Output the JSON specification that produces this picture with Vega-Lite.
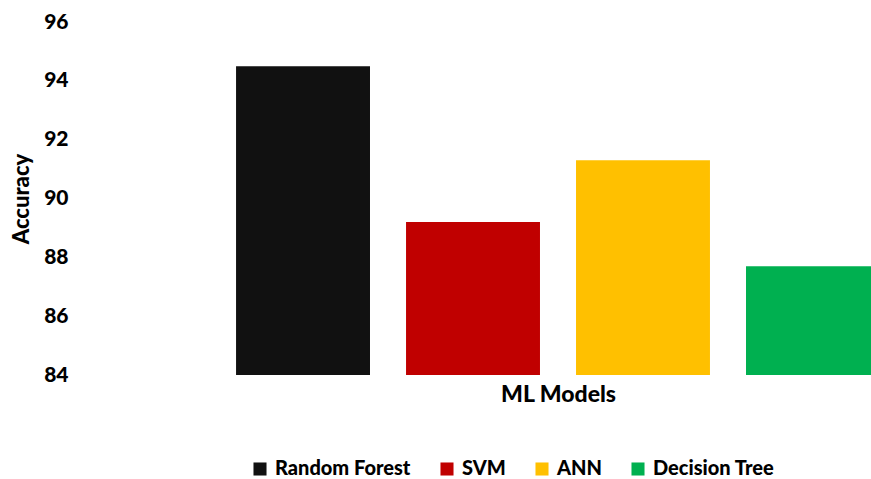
{
  "$schema": "https://vega.github.io/schema/vega-lite/v6.json",
  "autosize": {"type": "none"},
  "width": 791,
  "height": 353,
  "padding": {"left": 80, "top": 22, "right": 0, "bottom": 104},
  "background": "white",
  "config": {
    "view": {"stroke": null},
    "font": "Lato",
    "axis": {"labelFont": "Lato", "titleFont": "Lato", "labelColor": "#000000", "titleColor": "#000000"},
    "legend": {"labelFont": "Lato", "labelColor": "#000000"}
  },
  "data": {
    "values": [
      {"model": "Random Forest", "accuracy": 94.5},
      {"model": "SVM", "accuracy": 89.2},
      {"model": "ANN", "accuracy": 91.3},
      {"model": "Decision Tree", "accuracy": 87.7}
    ]
  },
  "mark": {"type": "bar", "clip": true},
  "encoding": {
    "x": {
      "field": "model",
      "type": "nominal",
      "sort": ["Random Forest", "SVM", "ANN", "Decision Tree"],
      "scale": {"range": [0, 956], "paddingInner": 0.212, "paddingOuter": 0.918},
      "axis": {
        "title": "ML Models",
        "labels": false,
        "ticks": false,
        "domain": false,
        "titleFontSize": 23,
        "titleFontWeight": 900,
        "titlePadding": 8
      }
    },
    "y": {
      "field": "accuracy",
      "type": "quantitative",
      "scale": {"domain": [84, 96], "zero": false, "nice": false},
      "axis": {
        "title": "Accuracy",
        "values": [84, 86, 88, 90, 92, 94, 96],
        "grid": false,
        "ticks": false,
        "domain": false,
        "labelFontSize": 21,
        "labelFontWeight": 900,
        "labelPadding": 12,
        "titleFontSize": 22,
        "titleFontWeight": 900,
        "titlePadding": 10
      }
    },
    "color": {
      "field": "model",
      "type": "nominal",
      "sort": ["Random Forest", "SVM", "ANN", "Decision Tree"],
      "scale": {
        "domain": ["Random Forest", "SVM", "ANN", "Decision Tree"],
        "range": ["#111111", "#C00000", "#FFC000", "#00B050"]
      },
      "legend": {
        "title": null,
        "orient": "none",
        "direction": "horizontal",
        "legendX": 170,
        "legendY": 437,
        "symbolType": "square",
        "symbolSize": 170,
        "symbolStrokeWidth": 0,
        "labelFontSize": 20,
        "labelFontWeight": 900,
        "labelOffset": 5,
        "columnPadding": 26
      }
    }
  }
}
